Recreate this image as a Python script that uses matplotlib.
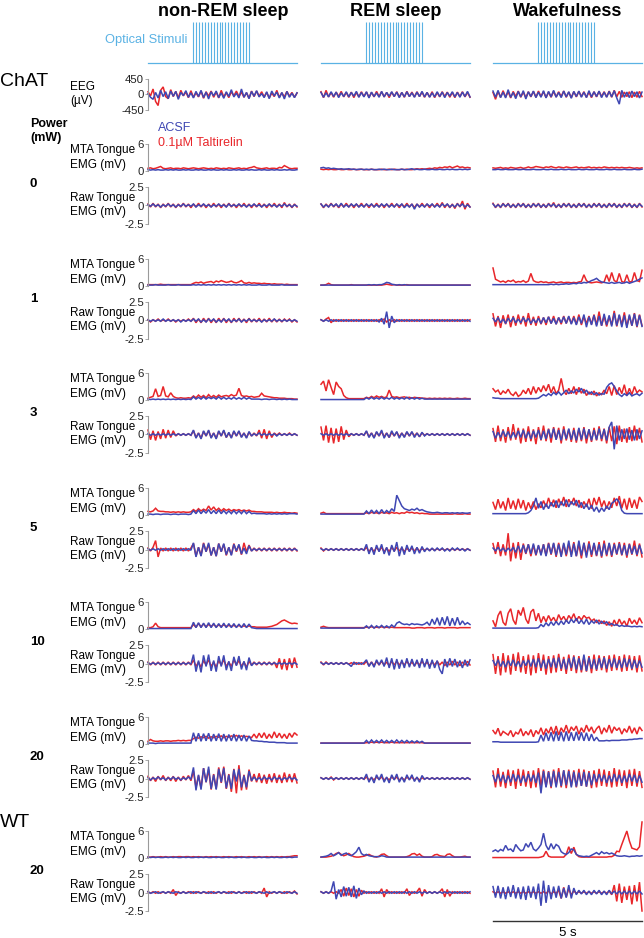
import matplotlib
matplotlib.use("Agg")
import matplotlib.pyplot as plt
import numpy as np

plt.rcParams["font.family"] = ["Liberation Sans", "DejaVu Sans"]
plt.rcParams["axes.unicode_minus"] = False

# ---------------------------------------------------------------- data
states = ["non-REM sleep", "REM sleep", "Wakefulness"]
powers = ["0", "1", "3", "5", "10", "20", "20"]  # last row = WT
pulse_times = [1.5, 1.6, 1.7, 1.8, 1.9, 2.0, 2.1, 2.2, 2.3, 2.4,
               2.5, 2.6, 2.7, 2.8, 2.9, 3.0, 3.1, 3.2, 3.3, 3.4]
duration = 5.0  # s

# EEG, units of 10 uV, [nrem, rem, wake]
eeg_acsf = [
    [2, -8, -14, 6, -10, 12, -6, 8, -12, 10, -5, 9, -14, 6, -3, 11, -8, 5, -10, 9,
     -6, 12, -9, 7, -13, 8, -4, 10, -9, 5, -11, 8, -6, 14, -7, 4, -10, 16, -8, 6,
     -12, 9, -5, 11, -7, 3, -9, 8, -12, 10, -4, 7, -10, 6, -13, 9, -8, 4, -9, 5],
    [6, -8, 5, -7, 8, -6, 7, -9, 5, -6, 8, -7, 6, -5, 9, -8, 6, -7, 8, -10,
     7, -6, 5, -8, 9, -7, 6, -5, 8, -6, 7, -9, 6, -7, 8, -6, 5, -8, 7, -6,
     9, -7, 6, -8, 5, -7, 8, -6, 7, -9, 6, -5, 8, -7, 6, -8, 7, -6, 9, -7],
    [10, -8, 12, -9, 7, -10, 14, -8, 6, -12, 9, -7, 11, -13, 8, -6, 10, -9, 7, -8,
     11, -10, 9, -7, 12, -8, 6, -9, 10, -7, 8, -11, 9, -6, 10, -8, 7, -9, 11, -7,
     8, -6, 10, -9, 7, -8, 9, -7, 11, -10, -28, 12, -8, 7, -9, 10, -6, 8, -10, 7],
]
eeg_talt = [
    [8, -4, 16, -20, -32, 12, 22, -6, -12, 14, -6, 9, -10, 12, -4, 7, -9, 11, -8, 5,
     -7, 10, -11, 8, -5, 10, -8, 7, -10, 12, -7, 5, -9, 8, -4, 10, -6, 7, -8, 5,
     -11, 10, -6, 10, -5, 8, -7, 6, -10, 4, -6, 12, -8, 5, -7, 9, -5, 6, -8, 4],
    [8, -9, 12, -7, 6, -8, 7, -6, 9, -7, 6, -8, 7, -9, 6, -7, 8, -6, 7, -8,
     6, -7, 9, -6, 8, -7, 6, -9, 7, -6, 8, -7, 6, -8, 9, -6, 7, -7, 8, -6,
     7, -8, 6, -7, 8, -9, 6, -7, 8, -6, 7, -8, 6, -9, 7, -6, 8, -7, 6, -8],
    [6, -14, 9, -8, 11, -7, 8, -10, 9, -6, 10, -8, 7, -9, 8, -7, 9, -8, 10, -6,
     8, -9, 7, -8, 9, -7, 8, -6, 10, -8, 7, -9, 8, -7, 9, -6, 8, -8, 7, -9,
     8, -7, 9, -6, 8, -7, 10, -8, 12, -7, 9, -8, 7, -6, 8, -9, 7, -8, 9, -6],
]

# MTA tongue EMG, units of 0.1 mV, one list per power row
nrem_mta_acsf = [
    [3, 2, 3, 2, 3, 2, 2, 3, 2, 3, 2, 3, 2, 2, 3, 2, 3, 2, 2, 3, 2, 3, 2, 2, 3, 2, 3, 2, 2, 3,
     2, 3, 2, 2, 3, 2, 3, 2, 2, 3, 2, 3, 2, 2, 3, 2, 3, 2, 2, 3, 2, 3, 2, 2, 3, 2, 3, 2, 2, 3],
    [2, 2, 2, 3, 2, 2, 2, 2, 3, 2, 2, 2, 3, 2, 2, 2, 2, 2, 3, 2, 3, 2, 3, 2, 3, 2, 3, 2, 3, 2,
     3, 2, 3, 2, 3, 2, 3, 2, 3, 2, 3, 2, 2, 2, 3, 2, 2, 2, 3, 2, 2, 2, 2, 3, 2, 2, 2, 2, 2, 2],
    [2, 1, 2, 1, 2, 1, 2, 1, 2, 1, 2, 1, 2, 1, 2, 1, 2, 1, 7, 2, 6, 2, 7, 2, 6, 3, 6, 2, 7, 2,
     6, 2, 5, 2, 6, 2, 5, 2, 6, 2, 5, 2, 2, 2, 2, 1, 2, 2, 1, 2, 2, 1, 2, 1, 2, 1, 2, 1, 1, 1],
    [2, 2, 1, 2, 2, 1, 2, 2, 2, 1, 2, 2, 1, 2, 2, 2, 1, 2, 10, 3, 11, 3, 10, 4, 12, 3, 10, 3, 11, 3,
     10, 3, 9, 3, 10, 3, 9, 3, 10, 3, 8, 3, 4, 3, 3, 3, 3, 2, 3, 2, 3, 2, 3, 2, 3, 2, 3, 3, 3, 2],
    [1, 1, 1, 1, 1, 1, 1, 1, 1, 1, 1, 1, 1, 1, 1, 1, 1, 1, 15, 3, 14, 3, 13, 3, 14, 3, 13, 3, 12, 3,
     13, 3, 12, 3, 12, 3, 11, 3, 12, 3, 11, 3, 2, 1, 1, 1, 1, 1, 1, 1, 1, 1, 1, 1, 1, 1, 1, 1, 1, 1],
    [2, 2, 2, 1, 2, 2, 2, 2, 2, 2, 2, 2, 2, 2, 2, 2, 2, 2, 25, 6, 24, 6, 23, 7, 24, 6, 22, 7, 23, 6,
     22, 6, 21, 7, 22, 6, 20, 7, 20, 6, 18, 8, 7, 7, 6, 6, 5, 5, 4, 4, 4, 3, 3, 3, 3, 2, 2, 2, 2, 2],
    [2, 1, 2, 1, 2, 1, 1, 2, 1, 2, 1, 2, 1, 1, 2, 1, 2, 1, 1, 2, 1, 2, 1, 2, 1, 1, 2, 1, 2, 1,
     1, 2, 1, 2, 1, 1, 2, 1, 2, 1, 1, 2, 1, 1, 2, 1, 2, 1, 1, 2, 1, 2, 1, 1, 2, 1, 2, 1, 2, 2],
]
nrem_mta_talt = [
    [6, 7, 5, 6, 8, 10, 6, 5, 6, 7, 5, 6, 6, 5, 7, 6, 5, 6, 7, 6, 5, 6, 7, 6, 5, 6, 5, 7, 6, 5,
     6, 5, 7, 6, 5, 6, 7, 5, 6, 5, 7, 8, 10, 7, 6, 5, 6, 7, 5, 6, 6, 5, 8, 7, 12, 9, 6, 5, 6, 6],
    [3, 3, 3, 3, 3, 4, 3, 3, 3, 3, 3, 3, 3, 3, 3, 3, 3, 3, 6, 8, 7, 9, 6, 8, 9, 10, 7, 11, 9, 12,
     10, 8, 9, 11, 8, 7, 9, 12, 7, 6, 8, 6, 7, 6, 6, 5, 6, 5, 5, 4, 5, 4, 4, 4, 3, 4, 3, 3, 3, 3],
    [4, 6, 8, 25, 8, 10, 30, 9, 7, 16, 8, 5, 4, 5, 4, 4, 5, 4, 9, 5, 11, 6, 10, 5, 12, 6, 10, 6, 11, 7,
     9, 10, 8, 12, 9, 11, 26, 10, 8, 9, 7, 8, 6, 7, 8, 15, 9, 8, 7, 6, 5, 5, 4, 4, 4, 3, 3, 3, 2, 2],
    [8, 7, 9, 15, 9, 8, 8, 7, 7, 6, 7, 6, 7, 6, 7, 6, 6, 7, 12, 8, 14, 9, 13, 10, 20, 11, 18, 10, 15, 9,
     14, 10, 13, 9, 12, 10, 12, 9, 11, 9, 11, 8, 8, 7, 7, 7, 6, 6, 6, 6, 5, 6, 5, 5, 6, 5, 5, 4, 5, 4],
    [3, 3, 5, 13, 5, 3, 3, 3, 3, 3, 3, 3, 3, 3, 3, 3, 3, 3, 10, 4, 12, 5, 11, 5, 10, 6, 10, 5, 9, 6,
     9, 6, 8, 6, 8, 5, 8, 5, 7, 5, 7, 5, 5, 4, 4, 4, 4, 4, 5, 6, 8, 10, 14, 18, 20, 17, 14, 12, 13, 12],
    [6, 10, 7, 6, 6, 7, 6, 7, 7, 6, 7, 7, 8, 7, 8, 7, 8, 8, 12, 15, 13, 16, 14, 17, 13, 16, 14, 17, 15, 18,
     14, 17, 15, 18, 16, 19, 15, 18, 16, 17, 16, 14, 22, 13, 24, 14, 25, 12, 22, 13, 27, 14, 24, 13, 22, 12, 24, 15, 25, 20],
    [2, 2, 3, 2, 2, 3, 2, 3, 2, 2, 3, 2, 3, 3, 2, 3, 3, 2, 3, 2, 3, 2, 2, 3, 2, 3, 2, 3, 2, 2,
     3, 2, 3, 2, 2, 3, 2, 3, 2, 2, 3, 2, 3, 2, 3, 2, 2, 3, 2, 3, 2, 3, 2, 3, 2, 3, 3, 4, 5, 5],
]
rem_mta_acsf = [
    [7, 8, 6, 7, 5, 6, 5, 4, 5, 4, 4, 5, 4, 4, 3, 4, 4, 3, 4, 3, 4, 3, 3, 4, 3, 4, 3, 3, 4, 3,
     3, 3, 4, 3, 3, 4, 5, 3, 4, 3, 3, 4, 3, 3, 4, 3, 3, 4, 3, 3, 4, 3, 4, 3, 3, 4, 3, 4, 3, 4],
    [2, 2, 2, 2, 2, 2, 2, 2, 2, 2, 2, 2, 2, 2, 2, 2, 2, 2, 2, 3, 2, 3, 2, 3, 3, 5, 8, 7, 4, 3,
     2, 3, 2, 3, 2, 2, 2, 2, 2, 2, 2, 2, 2, 2, 2, 2, 2, 2, 2, 2, 2, 2, 2, 2, 2, 2, 2, 2, 2, 2],
    [1, 1, 1, 1, 1, 1, 1, 1, 1, 1, 1, 1, 1, 1, 1, 1, 1, 1, 5, 2, 6, 2, 5, 2, 6, 2, 5, 2, 6, 2,
     5, 2, 5, 2, 6, 2, 5, 2, 5, 2, 4, 2, 2, 2, 2, 2, 2, 2, 2, 2, 2, 2, 2, 2, 2, 2, 2, 2, 2, 2],
    [2, 2, 2, 2, 2, 2, 2, 2, 2, 2, 2, 2, 2, 2, 2, 2, 2, 2, 9, 3, 11, 4, 10, 3, 12, 4, 10, 5, 14, 8,
     44, 32, 20, 14, 12, 10, 13, 11, 15, 10, 12, 9, 7, 6, 5, 5, 6, 5, 4, 5, 5, 4, 5, 4, 5, 4, 5, 4, 4, 5],
    [2, 2, 2, 2, 2, 2, 2, 2, 2, 2, 2, 2, 2, 2, 2, 2, 2, 2, 7, 2, 8, 2, 7, 3, 8, 3, 7, 3, 9, 4,
     13, 16, 12, 10, 11, 9, 12, 10, 11, 10, 9, 11, 15, 8, 22, 10, 25, 8, 26, 9, 28, 7, 24, 8, 26, 9, 18, 10, 14, 10],
    [2, 2, 2, 2, 2, 2, 2, 2, 2, 2, 2, 2, 2, 2, 2, 2, 2, 2, 8, 2, 9, 3, 8, 3, 9, 3, 8, 3, 8, 3,
     9, 3, 8, 3, 8, 3, 7, 3, 7, 3, 6, 2, 2, 2, 2, 2, 2, 2, 2, 2, 2, 2, 2, 2, 2, 2, 2, 2, 2, 2],
    [2, 3, 4, 6, 10, 5, 8, 12, 6, 9, 11, 7, 5, 9, 14, 24, 10, 6, 8, 5, 4, 3, 3, 3, 5, 4, 2, 2, 2, 2,
     2, 2, 2, 2, 2, 2, 2, 2, 2, 2, 2, 2, 2, 2, 2, 2, 2, 2, 2, 2, 2, 2, 2, 2, 2, 2, 2, 2, 2, 2],
]
rem_mta_talt = [
    [4, 3, 4, 3, 4, 3, 3, 4, 3, 3, 4, 3, 3, 4, 3, 3, 4, 3, 3, 3, 4, 3, 3, 3, 4, 3, 3, 4, 3, 4,
     3, 3, 4, 3, 4, 3, 3, 4, 5, 4, 5, 4, 5, 6, 5, 7, 6, 8, 7, 9, 8, 10, 7, 9, 11, 8, 9, 7, 8, 7],
    [2, 2, 3, 6, 3, 2, 2, 2, 2, 2, 2, 2, 3, 2, 2, 2, 2, 2, 2, 2, 2, 2, 2, 2, 2, 3, 4, 3, 2, 3,
     2, 2, 2, 2, 3, 2, 2, 2, 2, 2, 2, 2, 2, 2, 2, 2, 2, 2, 2, 2, 2, 2, 2, 2, 2, 2, 2, 2, 2, 2],
    [35, 42, 20, 45, 28, 12, 40, 30, 25, 10, 5, 3, 3, 3, 3, 3, 3, 3, 6, 4, 8, 5, 9, 6, 8, 5, 7, 22, 8, 6,
     7, 5, 6, 7, 5, 6, 4, 6, 5, 5, 4, 4, 3, 4, 3, 4, 3, 4, 3, 4, 3, 4, 3, 3, 4, 3, 3, 4, 3, 3],
    [4, 6, 3, 3, 3, 3, 3, 3, 3, 3, 3, 3, 3, 3, 3, 3, 3, 3, 5, 3, 6, 4, 5, 3, 6, 4, 5, 3, 6, 4,
     5, 3, 5, 4, 7, 5, 6, 4, 5, 3, 4, 3, 3, 2, 2, 2, 2, 2, 2, 2, 2, 2, 2, 3, 2, 2, 2, 3, 2, 2],
    [4, 6, 4, 3, 3, 3, 3, 3, 3, 3, 3, 3, 3, 3, 3, 3, 3, 3, 4, 3, 5, 3, 4, 3, 5, 3, 4, 3, 4, 3,
     3, 3, 3, 3, 3, 3, 2, 2, 3, 3, 3, 2, 3, 3, 3, 2, 3, 3, 3, 2, 3, 3, 3, 3, 2, 3, 3, 3, 3, 3],
    [2, 2, 2, 2, 2, 2, 2, 2, 2, 2, 2, 2, 2, 2, 2, 2, 2, 2, 3, 3, 4, 3, 4, 3, 4, 3, 3, 3, 4, 3,
     3, 3, 3, 3, 3, 3, 3, 3, 3, 3, 3, 2, 2, 2, 2, 2, 2, 2, 2, 2, 2, 2, 2, 2, 2, 2, 2, 2, 2, 2],
    [2, 2, 2, 3, 4, 6, 10, 12, 8, 5, 7, 10, 6, 3, 2, 2, 3, 4, 6, 8, 5, 3, 2, 4, 8, 9, 5, 2, 2, 2,
     2, 2, 2, 2, 3, 5, 9, 10, 6, 9, 4, 2, 2, 2, 3, 7, 8, 5, 4, 3, 8, 9, 5, 2, 2, 2, 3, 4, 2, 2],
]
wake_mta_acsf = [
    [3, 3, 4, 3, 3, 4, 3, 3, 3, 4, 3, 3, 4, 3, 3, 3, 4, 3, 3, 3, 4, 3, 3, 4, 3, 3, 3, 4, 3, 3,
     4, 3, 3, 3, 4, 3, 3, 4, 3, 3, 3, 4, 3, 3, 3, 4, 3, 3, 4, 3, 3, 3, 4, 3, 3, 3, 4, 3, 3, 4],
    [3, 3, 3, 3, 3, 3, 3, 3, 3, 3, 3, 3, 3, 3, 3, 3, 3, 3, 3, 3, 3, 3, 3, 4, 3, 4, 3, 4, 4, 5,
     4, 5, 6, 5, 7, 6, 8, 7, 9, 12, 14, 17, 12, 9, 8, 7, 6, 8, 6, 7, 8, 6, 7, 9, 6, 8, 10, 12, 15, 18],
    [5, 4, 4, 3, 3, 3, 3, 3, 3, 3, 3, 3, 3, 3, 3, 3, 3, 3, 4, 8, 12, 9, 14, 10, 17, 12, 18, 11, 16, 22,
     14, 20, 16, 24, 18, 26, 15, 22, 13, 18, 12, 16, 11, 14, 13, 28, 35, 38, 30, 20, 12, 8, 14, 10, 16, 9, 12, 14, 10, 15],
    [3, 3, 3, 3, 3, 3, 3, 3, 3, 3, 3, 3, 3, 3, 5, 10, 20, 38, 15, 30, 12, 25, 14, 28, 18, 32, 16, 30, 20, 34,
     18, 30, 22, 33, 17, 28, 14, 25, 12, 22, 8, 18, 6, 16, 8, 20, 12, 26, 30, 36, 28, 10, 4, 3, 3, 3, 3, 3, 3, 3],
    [2, 2, 2, 2, 2, 2, 2, 2, 2, 2, 2, 2, 2, 2, 2, 2, 2, 2, 3, 10, 5, 14, 7, 16, 8, 17, 9, 18, 10, 20,
     12, 22, 14, 24, 12, 20, 11, 22, 10, 18, 13, 20, 11, 17, 12, 16, 9, 12, 8, 10, 6, 8, 6, 7, 6, 5, 6, 5, 6, 5],
    [5, 5, 5, 4, 4, 4, 4, 4, 4, 4, 4, 4, 4, 4, 4, 4, 4, 4, 5, 20, 6, 25, 7, 26, 6, 28, 7, 27, 6, 28,
     7, 26, 7, 27, 8, 26, 7, 25, 7, 22, 7, 15, 7, 7, 7, 8, 7, 8, 8, 8, 8, 9, 9, 9, 10, 10, 11, 11, 12, 12],
    [15, 18, 14, 19, 16, 28, 18, 20, 14, 30, 22, 16, 18, 32, 24, 35, 20, 16, 22, 30, 55, 28, 18, 32, 20, 30, 26, 14, 10, 8,
     12, 20, 18, 8, 5, 4, 3, 4, 3, 6, 9, 12, 8, 14, 10, 12, 9, 11, 8, 5, 4, 4, 5, 4, 3, 4, 4, 5, 4, 5],
]
wake_mta_talt = [
    [7, 6, 7, 8, 6, 7, 6, 8, 7, 6, 7, 8, 6, 7, 9, 7, 8, 10, 9, 8, 7, 9, 8, 10, 8, 7, 9, 8, 7, 9,
     8, 7, 8, 9, 7, 8, 7, 8, 9, 7, 8, 7, 8, 7, 9, 8, 7, 8, 7, 8, 7, 8, 7, 7, 8, 7, 6, 7, 6, 7],
    [40, 15, 12, 9, 11, 8, 12, 10, 13, 8, 10, 9, 12, 8, 11, 28, 12, 9, 8, 10, 8, 9, 7, 8, 9, 7, 8, 9, 7, 8,
     8, 7, 8, 7, 9, 10, 25, 12, 8, 7, 8, 9, 8, 7, 9, 25, 10, 30, 12, 9, 28, 10, 8, 25, 9, 10, 30, 12, 10, 35],
    [25, 18, 22, 12, 20, 15, 24, 14, 10, 18, 8, 12, 22, 14, 26, 12, 30, 15, 28, 18, 32, 20, 35, 16, 30, 14, 22, 48, 20, 12,
     26, 14, 30, 12, 28, 15, 24, 10, 18, 12, 20, 9, 16, 12, 22, 14, 30, 10, 32, 12, 28, 14, 34, 10, 26, 12, 30, 16, 22, 18],
    [28, 12, 35, 15, 30, 10, 38, 14, 32, 12, 36, 15, 33, 10, 28, 14, 30, 12, 25, 16, 32, 18, 38, 20, 34, 16, 36, 22, 40, 18,
     35, 24, 38, 20, 33, 16, 30, 18, 36, 14, 38, 22, 40, 18, 32, 14, 30, 16, 38, 20, 42, 15, 36, 12, 38, 16, 34, 14, 40, 30],
    [18, 5, 30, 40, 15, 8, 35, 45, 20, 10, 42, 30, 48, 22, 12, 38, 44, 18, 35, 14, 28, 16, 30, 18, 26, 15, 32, 20, 28, 17,
     30, 22, 34, 18, 28, 20, 30, 24, 26, 18, 22, 14, 20, 12, 18, 8, 16, 6, 20, 8, 22, 10, 18, 6, 24, 12, 20, 10, 25, 14],
    [30, 22, 35, 18, 28, 24, 20, 30, 16, 26, 22, 34, 18, 28, 20, 32, 16, 30, 22, 36, 20, 34, 24, 38, 22, 40, 20, 36, 26, 42,
     24, 38, 30, 40, 22, 36, 26, 42, 28, 38, 24, 34, 40, 22, 36, 26, 42, 24, 38, 30, 36, 22, 34, 26, 40, 24, 36, 22, 38, 30],
    [1, 1, 1, 1, 1, 1, 1, 1, 1, 1, 1, 1, 1, 1, 1, 1, 1, 1, 1, 2, 4, 15, 4, 2, 2, 2, 2, 2, 2, 8,
     25, 10, 24, 8, 3, 2, 2, 2, 2, 2, 2, 2, 2, 2, 2, 2, 3, 3, 6, 15, 14, 30, 45, 60, 38, 22, 20, 18, 25, 80],
]

# Raw tongue EMG, units of 0.1 mV
nrem_raw_acsf = [
    [1, -1, 2, -1, 1, -2, 1, -1, 2, -1, 1, -2, 1, -1, 2, -1, 1, -1, 2, -2, 1, -1, 2, -1, 1, -2, 1, -1, 2, -1,
     1, -2, 2, -1, 1, -1, 2, -1, 1, -2, 1, -1, 2, -1, 1, -2, 1, -1, 2, -1, 1, -2, 1, -1, 2, -1, 1, -2, 1, -1],
    [1, -1, 1, -1, 1, -1, 2, -1, 1, -1, 1, -1, 1, -2, 1, -1, 1, -1, 2, -1, 2, -2, 1, -2, 2, -1, 2, -2, 1, -2,
     2, -1, 2, -2, 1, -1, 2, -2, 1, -1, 2, -1, 1, -1, 1, -2, 1, -1, 1, -1, 2, -1, 1, -1, 1, -1, 1, -1, 1, -1],
    [1, -1, 1, -1, 1, -1, 1, -1, 1, -1, 1, -1, 1, -1, 1, -1, 1, -1, 6, -5, 2, -6, 5, -2, 6, -5, 2, -6, 5, -2,
     6, -4, 3, -5, 5, -2, 5, -4, 2, -5, 4, -2, 1, -1, 2, -1, 1, -1, 1, -1, 1, -2, 1, -1, 1, -1, 1, -1, 1, -1],
    [1, -1, 1, -1, 1, -1, 1, -1, 1, -1, 1, -1, 1, -1, 1, -1, 1, -1, 9, -10, 3, -9, 8, -3, 9, -8, 3, -9, 8, -3,
     8, -7, 3, -8, 7, -2, 7, -6, 2, -6, 5, -2, 1, -1, 1, -1, 1, -1, 1, -1, 1, -1, 1, -1, 1, -1, 1, -1, 1, -1],
    [1, -1, 1, -1, 1, -1, 1, -1, 1, -1, 1, -1, 1, -1, 1, -1, 1, -1, 12, -11, 4, -12, 11, -4, 12, -10, 4, -11, 10, -4,
     11, -9, 3, -10, 9, -3, 10, -8, 3, -9, 8, -3, 1, -1, 1, -1, 1, -1, 1, -1, 1, -1, 1, -1, 1, -1, 1, -1, 1, -1],
    [1, -2, 1, -1, 2, -1, 1, -2, 1, -1, 2, -1, 1, -2, 1, -1, 2, -1, 15, -16, 5, -15, 14, -5, 16, -14, 5, -15, 13, -5,
     14, -13, 5, -14, 12, -4, 13, -12, 4, -12, 10, -3, 2, -2, 1, -2, 2, -1, 1, -2, 2, -1, 1, -2, 1, -1, 2, -1, 1, -2],
    [1, -1, 0, 1, -1, 0, 1, -1, 1, 0, -1, 1, 0, -1, 1, -1, 0, 1, -1, 1, 0, -1, 1, 0, -1, 1, -1, 0, 1, -1,
     1, 0, -1, 1, 0, -1, 1, -1, 0, 1, -1, 1, 0, -1, 1, 0, -1, 1, -1, 0, 1, -1, 1, 0, -1, 1, 0, -1, 1, -1],
]
nrem_raw_talt = [
    [2, -2, 3, -2, 2, -3, 2, -2, 3, -2, 2, -3, 2, -2, 3, -2, 2, -3, 2, -2, 3, -2, 2, -3, 2, -2, 3, -2, 2, -3,
     2, -2, 3, -2, 2, -3, 2, -2, 3, -2, 2, -3, 2, -2, 3, -2, 2, -3, 2, -2, 3, -2, 2, -3, 4, -2, 2, -3, 2, -2],
    [1, -2, 1, -1, 2, -1, 1, -1, 2, -1, 1, -2, 1, -1, 1, -1, 2, -1, 3, -3, 2, -3, 3, -2, 3, -3, 2, -3, 3, -2,
     3, -3, 2, -3, 3, -2, 3, -2, 2, -3, 3, -2, 2, -2, 3, -2, 2, -2, 3, -2, 2, -2, 2, -2, 2, -1, 2, -2, 1, -2],
    [6, -7, 5, -8, 4, -6, 7, -5, 6, -4, 5, -2, 1, -1, 1, -1, 1, -1, 5, -4, 2, -5, 4, -2, 5, -4, 2, -5, 4, -2,
     5, -4, 2, -4, 4, -2, 4, -3, 2, -4, 3, -2, 2, -2, 6, -5, 7, -6, 5, -4, 2, -1, 2, -1, 1, -1, 2, -1, 1, -1],
    [2, -2, 3, 12, -10, 2, -2, 2, -2, 2, -2, 2, -2, 2, -2, 2, -2, 2, 8, -9, 3, -8, 9, -3, 7, -8, 3, -9, 8, -3,
     7, -8, 3, -7, 8, -3, 6, -7, 9, -3, 6, -2, 2, -2, 2, -2, 2, -2, 2, -2, 2, -2, 2, -2, 2, -2, 2, -2, 2, -2],
    [2, -2, 2, -2, 2, -2, 2, -2, 2, -2, 2, -2, 2, -2, 2, -2, 2, -2, 5, -4, 2, -5, 4, -2, 5, -4, 2, -5, 4, -2,
     5, -4, 2, -4, 5, -2, 4, -4, 2, -5, 3, -2, 2, -2, 2, -2, 2, -2, 2, -2, 2, -6, 7, -8, 6, -9, 7, -6, 8, -5],
    [3, -3, 2, -4, 3, -2, 4, -3, 2, -3, 3, -4, 2, -3, 3, -2, 4, -3, 10, -12, 4, -13, 14, -5, 12, -15, 6, -14, 15, -6,
     16, -14, 6, -18, 13, -20, 18, -16, 5, -15, 12, -4, 6, -5, 7, -6, 5, -7, 6, -5, 7, -6, 5, -6, 8, -5, 6, -5, 7, -6],
    [1, -1, 1, -1, 1, -1, 1, -1, 1, -1, 4, -4, 1, -1, 1, -1, 1, -1, 1, -1, 1, -1, 1, -1, 1, -1, 1, -1, 1, -1,
     1, -1, 1, -1, 1, -1, 1, -1, 1, -1, 1, -1, 1, -1, 1, -1, 6, -6, 1, -1, 1, -1, 1, -1, 1, -1, 1, -1, 2, -2],
]
rem_raw_acsf = [
    [2, -2, 1, -2, 2, -1, 2, -2, 3, -2, 1, -2, 2, -1, 2, -2, 1, -2, 2, -1, 2, -2, 1, -2, 2, -1, 2, -2, 1, -2,
     2, -1, 2, -3, 1, -2, 2, -5, 2, -2, 1, -2, 2, -1, 2, -2, 1, -2, 2, -1, 2, -2, 1, -2, 2, -1, 2, -2, 1, -2],
    [1, -1, 1, -1, 1, -1, 1, -1, 1, -1, 1, -1, 1, -1, 1, -1, 1, -1, 1, -1, 1, -1, 1, -2, 3, -5, 12, -10, 6, -3,
     1, -1, 1, -1, 1, -1, 1, -1, 1, -1, 1, -1, 1, -1, 1, -1, 1, -1, 1, -1, 1, -1, 1, -1, 1, -1, 1, -1, 1, -1],
    [1, -1, 1, -1, 1, -1, 1, -1, 1, -1, 1, -1, 1, -1, 1, -1, 1, -1, 5, -4, 2, -5, 4, -2, 6, -5, 2, -4, 5, -2,
     4, -5, 2, -4, 4, -2, 4, -4, 2, -3, 3, -2, 1, -1, 1, -1, 1, -1, 1, -1, 1, -1, 1, -1, 1, -1, 1, -1, 1, -1],
    [1, -1, 1, -1, 1, -1, 1, -1, 1, -1, 1, -1, 1, -1, 1, -1, 1, -1, 7, -6, 3, -7, 6, -3, 7, -6, 3, -8, 6, -3,
     10, -9, 4, -7, 6, -3, 5, -6, 3, -5, 4, -3, 2, -2, 2, -2, 2, -1, 2, -2, 1, -2, 2, -1, 2, -1, 1, -2, 1, -1],
    [1, -1, 1, -1, 1, -1, 1, -1, 1, -1, 1, -1, -4, 2, -1, 1, -1, 1, 5, -4, 2, -5, 5, -2, 5, -4, 8, -6, 7, -8,
     6, -7, 5, -6, 7, -5, 6, -4, 5, -6, 7, -5, 6, -7, 5, -6, 4, -8, -14, 6, -5, 7, -4, 6, -5, 4, -6, 5, -4, 5],
    [1, -1, 1, -1, 1, -1, 1, -1, 1, -1, 1, -1, 1, -1, 1, -1, 1, -1, 6, -5, 2, -6, 5, -2, 6, -5, 2, -6, 5, -2,
     6, -5, 2, -5, 5, -2, 5, -4, 2, -5, 4, -1, 1, -1, 1, -1, 1, -1, 1, -1, 1, -1, 1, -1, 1, -1, 1, -1, 1, -1],
    [1, -1, 1, -1, 2, 15, -9, 4, -6, 8, -5, 7, -6, 9, -8, 6, -3, 2, -1, 1, -1, 1, -1, 1, -1, 1, -1, 1, -1, 1,
     -1, 1, -1, 1, -1, 1, -1, 1, -1, 1, -1, 1, -1, 1, -1, 1, -1, 1, -1, 1, -1, 1, -1, 1, -1, 1, -1, 1, -1, 1],
]
rem_raw_talt = [
    [2, -3, 2, -2, 3, -2, 2, -3, 2, -2, 3, -2, 2, -3, 2, -2, 3, -2, 2, -3, 2, -2, 3, -2, 2, -3, 2, -2, 3, -2,
     2, -3, 2, -2, 3, -2, 2, -3, 2, -2, 3, -2, 2, -3, 2, -2, 3, -2, 4, -3, 2, -3, 2, -4, 3, -2, 6, -5, 3, -2],
    [1, -1, 2, 4, -3, 1, -1, 1, -1, 1, -1, 1, -1, 1, -1, 1, -1, 1, -1, 1, -1, 1, -1, 1, -1, 2, -2, 1, -1, 1,
     -1, 1, -1, 1, -1, 1, -1, 1, -1, 1, -1, 1, -1, 1, -1, 1, -1, 1, -1, 1, -1, 1, -1, 1, -1, 1, -1, 1, -1, 1],
    [10, -8, 12, -11, 9, -12, 8, -10, 11, -7, 6, -3, 1, -1, 1, -1, 1, -1, 4, -3, 2, -4, 3, -2, 4, -3, 2, -4, 3, -2,
     3, -3, 2, -3, 3, -2, 3, -2, 2, -3, 2, -1, 1, -1, 1, -1, 1, -1, 1, -1, 1, -1, 1, -1, 1, -1, 1, -1, 1, -1],
    [2, -2, 1, -1, 1, -1, 1, -1, 1, -1, 1, -1, 1, -1, 1, -1, 1, -1, 3, -3, 2, -3, 3, -2, 3, -3, 2, -3, 3, -2,
     3, -2, 2, -3, 2, -2, 2, -2, 2, -2, 1, -1, 1, -1, 1, -1, 1, -1, 1, -1, 1, -1, 1, -1, 1, -1, 1, -1, 1, -1],
    [2, -2, 2, -1, 1, -1, 1, -1, 1, -1, 1, -1, 1, -1, 1, -1, 1, -1, 3, -3, 2, -3, 3, -2, 3, -2, 2, -3, 3, -2,
     3, -2, 2, -2, 3, -2, 2, -3, 2, -2, 3, -2, 2, -3, 2, -2, 3, -2, 2, -3, 2, -2, 3, -2, 2, -3, 2, -2, 3, -2],
    [1, -1, 1, -1, 2, -2, 1, -1, 1, -1, 1, -1, 1, -1, 1, -1, 1, -1, 2, -2, 1, -2, 2, -1, 2, -2, 1, -2, 2, -1,
     2, -2, 1, -2, 2, -1, 2, -2, 1, -2, 1, -1, 1, -1, 1, -1, 1, -1, 1, -1, 1, -1, 1, -1, 1, -1, 1, -1, 1, -1],
    [1, -1, 1, -1, 1, -1, 1, -1, 4, -5, 6, -4, 5, -6, 4, -5, 3, -1, 1, -1, 1, -1, 1, -1, 5, -6, 4, -1, 1, -1,
     1, -1, 1, -1, 5, -4, 1, -1, 1, 6, -5, 4, -1, 1, -1, 1, -1, 1, 5, -6, 4, -5, 1, -1, 1, -1, 1, -1, 1, -1],
]
wake_raw_acsf = [
    [2, -2, 1, -2, 2, -1, 2, -2, 1, -2, 2, -1, 2, -2, 1, -2, 2, -1, 2, -2, 1, -2, 2, -1, 2, -2, 1, -2, 2, -1,
     2, -2, 1, -2, 2, -1, 2, -2, 1, -2, 2, -1, 2, -2, 1, -2, 2, -1, 2, -2, 1, -2, 2, -1, 2, -2, 1, -2, 2, -1],
    [3, -2, 4, -3, 2, -4, 3, -2, 4, -3, 2, -3, 4, -2, 3, -4, 2, -3, 3, -4, 4, -3, 5, -4, 3, -5, 4, -3, 5, -4,
     6, -5, 4, -6, 5, -4, 8, -9, 5, -6, 7, -8, 6, -7, 9, -6, 7, -8, 10, -7, 8, -9, 7, -10, 8, -7, 9, -8, 7, -8],
    [4, -5, 3, -4, 5, -3, 4, -5, 3, -4, 5, -4, 6, -5, 4, -6, 5, -4, 6, -7, 5, -6, 7, -5, 8, -7, 6, -8, 7, -6,
     8, -7, 6, -8, 9, -7, 8, -6, 7, -8, 6, -7, 8, -6, 7, -8, 10, 17, -20, 12, -8, 7, -6, 8, -7, 6, -8, 7, -6, 5],
    [2, -2, 3, -2, 2, -3, 2, -2, 3, -4, 5, -4, 6, -5, 7, -6, 8, -7, 6, -8, 7, -9, 8, -6, 9, -8, 7, -10, 9, -7,
     12, -10, 8, -9, 12, -8, 9, -11, 8, -7, 9, -8, 7, -9, 8, -7, 9, -8, 7, -6, 8, -7, 6, -8, 7, -6, 5, -7, 6, -5],
    [4, -3, 5, -4, 3, -5, 4, -3, 5, -4, 3, -5, 4, -3, 5, -4, 6, -5, 7, -6, 5, -7, 6, -5, 7, -6, 8, -7, 6, -8,
     7, -6, 9, -8, 7, -9, 12, -10, 8, -7, 6, -8, 7, -6, 8, -7, 6, -5, 7, -6, 5, -6, 7, -5, 6, -7, 5, -6, 4, -5],
    [4, -5, 6, -4, 5, -6, 4, -5, 6, -4, 5, -6, 4, -5, 6, -4, 5, -6, 8, -20, 10, -12, 9, -11, 10, -12, 9, -10, 11, -9,
     10, -12, 9, -11, 8, -10, 9, -11, 8, -9, 6, -5, 6, -4, 5, -6, 4, -5, 6, -4, 5, -6, 4, -5, 6, -4, 5, -6, 4, -5],
    [8, -7, 9, -8, 7, -9, 8, -6, 10, -8, 7, -9, 8, -10, 9, -7, 8, -9, 12, -18, 16, -14, 10, -9, 8, -7, 9, -8, 6, -7,
     10, -8, 6, -3, 3, -2, 3, -3, 2, -3, 3, -2, 3, -3, 2, -3, 3, -2, 2, -2, 2, -2, 2, -2, 2, -2, 2, -2, 2, -2],
]
wake_raw_talt = [
    [3, -3, 2, -3, 3, -2, 3, -3, 2, -3, 3, -2, 3, -3, 2, -3, 3, -2, 3, -3, 2, -3, 3, -2, 4, -3, 2, -3, 3, -2,
     3, -3, 2, -3, 3, -2, 3, -3, 2, -3, 3, -2, 3, -3, 2, -3, 3, -2, 3, -3, 2, -3, 3, -2, 3, -3, 2, -3, 3, -2],
    [9, -8, 6, -10, 7, -5, 8, -9, 6, -7, 8, -5, 6, -8, 10, -6, 5, -7, 6, -5, 4, -6, 5, -4, 6, -5, 4, -5, 6, -4,
     5, -4, 6, -5, 8, -6, 5, -4, 6, -5, 8, -6, 12, -7, 6, -8, 5, -6, 13, -8, 7, -6, 11, -8, 6, -7, 10, -9, 8, -7],
    [8, -10, 12, -9, 7, -11, 10, -8, 14, -7, 9, -12, 8, -10, 11, -9, 7, -13, 10, -8, 12, -9, 8, -11, 10, -7, 9, -12, 11, -8,
     7, -10, 9, -11, 8, -9, 10, -12, 7, -10, 9, -8, 11, -9, 8, -12, 10, -9, 11, -13, 12, -10, 8, -11, 10, -9, 12, -8, 9, -10],
    [8, -6, 10, -9, 7, -8, 22, -16, 9, -12, 10, -14, 8, -6, 7, -9, 6, -8, 5, -6, 7, -8, 9, -7, 8, -10, 9, -8, 7, -9,
     8, -7, 10, -9, 8, -12, 9, -8, 11, -10, 8, -9, 10, -11, 12, -9, 8, -10, 9, -7, 10, -8, 9, -11, 8, -7, 12, -9, 8, -10],
    [12, -14, 10, -16, 14, -12, 11, -15, 13, -10, 15, -12, 10, -14, 12, -16, 11, -13, 14, -10, 12, -15, 10, -13, 11, -12, 13, -10, 9, -14,
     12, -10, 11, -13, 10, -12, 9, -11, 10, -13, 12, -10, 11, -9, 10, -12, 11, -10, 12, -9, 10, -11, 12, -10, 11, -9, 10, -12, 11, -10],
    [10, -12, 14, -11, 9, -13, 12, -10, 11, -14, 13, -10, 12, -11, 10, -13, 11, -12, 14, -10, 12, -11, 10, -13, 12, -10, 14, -12, 11, -13,
     12, -10, 11, -12, 13, -10, 12, -11, 10, -13, 11, -12, 13, -10, 12, -11, 10, -12, 14, -11, 12, -10, 11, -13, 12, -10, 13, -11, 10, -12],
    [1, -1, 1, -1, 1, -1, 1, -1, 1, -1, 1, -1, 1, -1, 1, -1, 1, -1, 1, -1, 1, -1, 2, -2, 1, -1, 3, -8, 7, -6,
     5, -3, 2, -1, 1, -1, 1, -1, 1, -1, 1, -1, 1, -1, 1, -1, 2, -3, 10, -12, 12, -14, 8, -10, 9, -16, 10, -12, 14, -25],
]

mta_data = {"acsf": [nrem_mta_acsf, rem_mta_acsf, wake_mta_acsf],
            "talt": [nrem_mta_talt, rem_mta_talt, wake_mta_talt]}
raw_data = {"acsf": [nrem_raw_acsf, rem_raw_acsf, wake_raw_acsf],
            "talt": [nrem_raw_talt, rem_raw_talt, wake_raw_talt]}

# ---------------------------------------------------------------- style
BLUE = "#3f47b3"
RED = "#e8262a"
STIM = "#5ab2e4"
GREY = "#9a9a9a"
LW = 1.1

W, H = 644, 938
fig = plt.figure(figsize=(W / 100, H / 100), dpi=100)

col_left = [148, 321, 493]
col_width = 149
mta_top = [144, 259, 373, 488, 602, 717, 831]


def px_axes(left, top, width, height):
    return fig.add_axes([left / W, 1 - (top + height) / H, width / W, height / H])


def px_text(x, y, s, **kw):
    kw.setdefault("va", "center")
    kw.setdefault("ha", "left")
    fig.text(x / W, 1 - y / H, s, **kw)


def style_axis(ax, col, ylim, ticks, labels):
    ax.set_xlim(0, duration)
    ax.set_ylim(*ylim)
    ax.patch.set_visible(False)
    for side in ["top", "right", "bottom", "left"]:
        ax.spines[side].set_visible(False)
    ax.set_xticks([])
    if col == 0:
        ax.spines["left"].set_visible(True)
        ax.spines["left"].set_color(GREY)
        ax.spines["left"].set_linewidth(0.8)
        ax.spines["left"].set_bounds(ticks[0], ticks[-1])
        ax.set_yticks(ticks, labels)
        ax.tick_params(axis="y", length=2, width=0.6, color=GREY, pad=1,
                       labelsize=8.2, labelcolor="#222222")
    else:
        ax.set_yticks([])


def draw_traces(ax, red, blue, scale):
    for y, c in ((red, RED), (blue, BLUE)):
        y = np.asarray(y, float) * scale
        t = np.linspace(0, duration, len(y))
        ax.plot(t, y, color=c, lw=LW, clip_on=False, solid_joinstyle="miter")


# titles and stimulus trains
for col, name in enumerate(states):
    px_text(col_left[col] + col_width / 2 + 0.5, 11, name, ha="center",
            fontsize=13, fontweight="bold")
    ax = px_axes(col_left[col], 22, col_width, 41)
    ax.set_xlim(0, duration)
    ax.set_ylim(0, 1)
    ax.axis("off")
    ax.plot([0, duration], [0, 0], color=STIM, lw=0.9, clip_on=False)
    ax.vlines(pulse_times, 0, 1, color=STIM, lw=0.8)

px_text(105, 40, "Optical Stimuli", color=STIM, fontsize=9.3)
px_text(0, 82, "ChAT", fontsize=14)
px_text(70, 94, "EEG\n(\u00b5V)", fontsize=8.5, linespacing=1.3)
px_text(30, 131, "Power\n(mW)", fontsize=9, fontweight="bold", linespacing=1.3)
px_text(158, 128, "ACSF", color=BLUE, fontsize=9)
px_text(158, 143, "0.1\u00b5M Taltirelin", color=RED, fontsize=9)
px_text(0, 822, "WT", fontsize=14)

# EEG row
for col in range(3):
    ax = px_axes(col_left[col], 79, col_width, 31)
    style_axis(ax, col, (-450, 450), [-450, 0, 450], ["-450", "0", "450"])
    draw_traces(ax, eeg_talt[col], eeg_acsf[col], 10)

# EMG rows
for row, p in enumerate(powers):
    top = mta_top[row]
    raw_top = top + 43
    px_text(70, top + 13.5, "MTA Tongue\nEMG (mV)", fontsize=8.5, linespacing=1.3)
    px_text(70, raw_top + 18, "Raw Tongue\nEMG (mV)", fontsize=8.5, linespacing=1.3)
    px_text(30, top + 40, p, fontsize=9.5, fontweight="bold")
    for col in range(3):
        ax = px_axes(col_left[col], top, col_width, 27)
        style_axis(ax, col, (0, 6), [0, 6], ["0", "6"])
        draw_traces(ax, mta_data["talt"][col][row], mta_data["acsf"][col][row], 0.1)

        ax = px_axes(col_left[col], raw_top, col_width, 37)
        style_axis(ax, col, (-2.5, 2.5), [-2.5, 0, 2.5], ["-2.5", "0", "2.5"])
        draw_traces(ax, raw_data["talt"][col][row], raw_data["acsf"][col][row], 0.1)

# 5 s scale bar under the wakefulness column
ax = px_axes(col_left[2], 916, col_width, 10)
ax.set_xlim(0, duration)
ax.set_ylim(-1, 1)
ax.axis("off")
ax.plot([0, 5], [0, 0], color="#333333", lw=1.0, clip_on=False)
px_text(col_left[2] + col_width / 2, 933, "5 s", ha="center", fontsize=9.5)

fig.savefig("out.png", dpi=100)
